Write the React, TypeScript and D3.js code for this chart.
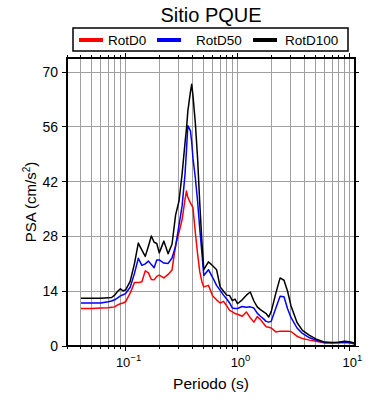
import React, { useEffect, useRef } from 'react';
import * as d3 from 'd3';

// periods (s) shared by the three spectra
const periods = [
  0.04, 0.05, 0.06, 0.07, 0.075, 0.08, 0.085, 0.09, 0.095, 0.1,
  0.11, 0.12, 0.13, 0.14, 0.15, 0.16, 0.17, 0.18, 0.19, 0.2,
  0.22, 0.24, 0.26, 0.28, 0.3, 0.32, 0.34, 0.35, 0.36, 0.38,
  0.39, 0.4, 0.42, 0.44, 0.46, 0.48, 0.5, 0.55, 0.6, 0.65,
  0.7, 0.75, 0.8, 0.85, 0.9, 0.95, 1.0, 1.1, 1.2, 1.3,
  1.4, 1.5, 1.6, 1.7, 1.8, 1.9, 2.0, 2.2, 2.4, 2.6,
  2.8, 3.0, 3.4, 3.8, 4.4, 5.0, 6.0, 7.0, 8.0, 9.0,
  10.0, 11.0,
];

const rotD0 = [
  9.6, 9.6, 9.7, 9.8, 9.9, 10.0, 10.5, 10.8, 11.0, 11.3,
  13.5, 16.2, 16.2, 16.4, 19.2, 18.7, 17.0, 16.9, 17.8, 18.1,
  17.4, 18.3, 19.4, 25.8, 29.0, 32.3, 37.5, 39.6, 38.0, 36.5,
  36.0, 35.3, 29.0, 23.5, 19.0, 16.5, 15.1, 15.5, 12.8, 11.8,
  11.0, 11.4, 10.3, 9.1, 8.7, 8.3, 8.1, 7.6, 8.7, 7.2,
  6.1, 7.5, 6.8, 5.8, 4.9, 4.8, 4.6, 3.6, 3.8, 3.8,
  3.8, 3.7, 2.5, 1.9, 1.5, 1.2, 0.8, 0.8, 0.8, 0.9,
  0.8, 0.6,
];

const rotD50 = [
  11.0, 11.0, 11.0, 11.3, 11.5, 11.8, 12.3, 12.8, 13.1, 13.4,
  15.0, 18.5, 22.4, 20.6, 21.0, 21.7, 20.8, 20.0, 22.0, 22.0,
  21.2, 21.1, 22.5, 25.5, 30.8, 35.8, 44.0, 50.0, 56.3, 55.0,
  52.0, 48.0, 43.0, 37.0, 30.0, 24.0, 18.0, 19.5, 17.5, 15.5,
  14.2, 13.0, 12.0, 11.0, 9.7, 9.6, 9.6, 10.1, 9.9, 10.0,
  9.7, 8.4, 7.6, 7.0, 6.3, 6.1, 6.3, 9.7, 12.7, 12.6,
  9.5, 7.3, 4.6, 3.2, 2.1, 1.5, 0.8, 0.8, 0.9, 1.0,
  0.9, 0.6,
];

const rotD100 = [
  12.2, 12.2, 12.2, 12.3, 12.4, 13.0, 14.0, 14.6, 14.1, 14.3,
  16.5, 21.0, 26.3, 24.5, 22.9, 25.5, 28.1, 26.5, 26.2, 23.8,
  26.8, 23.6, 26.0, 33.5, 37.0, 44.0, 52.0, 55.5, 60.0, 65.0,
  66.9, 64.0, 57.0, 48.0, 36.5, 27.0, 19.5, 21.5, 20.5, 19.5,
  15.1, 14.0, 13.0, 12.9, 11.6, 12.0, 10.8, 11.8, 13.0, 13.8,
  11.5, 10.0, 9.3, 8.8, 8.3, 7.4, 8.8, 13.5, 17.4, 16.8,
  14.0, 10.3, 6.0, 4.0, 2.7, 1.8, 1.0, 0.9, 0.95, 1.2,
  1.1, 0.8,
];

const seriesNames = ['RotD0', 'RotD50', 'RotD100'];
const seriesColors = ['#ff0000', '#0000ff', '#000000'];
const yTicks = [0, 14, 28, 42, 56, 70];
const xDecades = [0.1, 1, 10];
const xDecadeExp = ['\u22121', '0', '1'];

const FONT = '"Liberation Sans", Arial, Helvetica, sans-serif';

export default function App() {
  const svgRef = useRef<SVGSVGElement>(null);

  useEffect(() => {
    const svg = d3.select(svgRef.current);
    svg.selectAll('*').remove();

    const W = 390;
    const H = 400;
    const margin = { top: 58, right: 35, bottom: 54, left: 67 };
    const left = margin.left;
    const right = W - margin.right;
    const top = margin.top;
    const bottom = H - margin.bottom;

    const x = d3.scaleLog().domain([0.03, 11.2]).range([left, right]);
    const y = d3.scaleLinear().domain([0, 73.6]).range([bottom, top]);

    svg.append('rect').attr('width', W).attr('height', H).attr('fill', '#fff');

    const minor = x.ticks();
    const isDecade = (v: number) => Math.abs(Math.log10(v) - Math.round(Math.log10(v))) < 1e-6;

    // grid
    const grid = svg.append('g').attr('shape-rendering', 'crispEdges');
    grid.selectAll('line.v')
      .data(minor)
      .join('line')
      .attr('class', 'v')
      .attr('x1', d => x(d)).attr('x2', d => x(d))
      .attr('y1', top).attr('y2', bottom)
      .attr('stroke', '#a0a0a0').attr('stroke-width', 1);

    grid.selectAll('line.h')
      .data(yTicks.filter(d => d > 0))
      .join('line')
      .attr('class', 'h')
      .attr('x1', left).attr('x2', right)
      .attr('y1', d => y(d)).attr('y2', d => y(d))
      .attr('stroke', '#a0a0a0').attr('stroke-width', 1);

    // curves
    const seriesData = [rotD0, rotD50, rotD100];
    const line = d3.line<number>()
      .x((_, i) => x(periods[i]))
      .y(d => y(d));

    const clip = svg.append('clipPath').attr('id', 'plotclip');
    clip.append('rect').attr('x', left).attr('y', top).attr('width', right - left).attr('height', bottom - top);

    seriesData.forEach((vals, k) => {
      svg.append('path')
        .datum(vals)
        .attr('clip-path', 'url(#plotclip)')
        .attr('d', line)
        .attr('fill', 'none')
        .attr('stroke', seriesColors[k])
        .attr('stroke-width', 1.5)
        .attr('stroke-linejoin', 'round');
    });

    // frame
    svg.append('rect')
      .attr('x', left).attr('y', top)
      .attr('width', right - left).attr('height', bottom - top)
      .attr('fill', 'none').attr('stroke', '#000').attr('stroke-width', 2);

    // x ticks bottom & top
    const tickG = svg.append('g').attr('stroke', '#000').attr('stroke-width', 1).attr('shape-rendering', 'crispEdges');
    minor.forEach(v => {
      const len = isDecade(v) ? 5 : 3;
      tickG.append('line').attr('x1', x(v)).attr('x2', x(v)).attr('y1', bottom).attr('y2', bottom + len);
      tickG.append('line').attr('x1', x(v)).attr('x2', x(v)).attr('y1', top).attr('y2', top - len);
    });
    // y ticks left & right
    yTicks.forEach(v => {
      tickG.append('line').attr('x1', left - 5).attr('x2', left).attr('y1', y(v)).attr('y2', y(v));
      tickG.append('line').attr('x1', right).attr('x2', right + 4).attr('y1', y(v)).attr('y2', y(v));
    });

    // y tick labels
    svg.append('g')
      .selectAll('text')
      .data(yTicks)
      .join('text')
      .attr('x', left - 9)
      .attr('y', d => y(d))
      .attr('dy', '0.35em')
      .attr('text-anchor', 'end')
      .style('font-family', FONT)
      .style('font-size', '14px')
      .text(d => d);

    // x tick labels 10^n
    xDecades.forEach((v, i) => {
      const t = svg.append('text')
        .attr('x', x(v) + 3)
        .attr('y', bottom + 21)
        .attr('text-anchor', 'middle')
        .style('font-family', FONT)
        .style('font-size', '13px');
      t.append('tspan').text('10');
      t.append('tspan').attr('dy', -6).style('font-size', '9.5px').text(xDecadeExp[i]);
    });

    // axis titles
    svg.append('text')
      .attr('x', (left + right) / 2)
      .attr('y', 389)
      .attr('text-anchor', 'middle')
      .style('font-family', FONT)
      .style('font-size', '15.5px')
      .text('Periodo (s)');

    const yl = svg.append('text')
      .attr('transform', `translate(36,${(top + bottom) / 2}) rotate(-90)`)
      .attr('text-anchor', 'middle')
      .style('font-family', FONT)
      .style('font-size', '15px');
    yl.append('tspan').text('PSA (cm/s');
    yl.append('tspan').attr('dy', -6).style('font-size', '10px').text('2');
    yl.append('tspan').attr('dy', 6).text(')');

    // title
    svg.append('text')
      .attr('x', (left + right) / 2)
      .attr('y', 22)
      .attr('text-anchor', 'middle')
      .style('font-family', FONT)
      .style('font-size', '20px')
      .text('Sitio PQUE');

    // legend
    const lg = svg.append('g');
    lg.append('rect')
      .attr('x', 73).attr('y', 28).attr('width', 275).attr('height', 23)
      .attr('fill', '#fff').attr('stroke', '#000').attr('stroke-width', 1.5);
    const legendLineX = [79, 157, 253];
    const legendTextX = [108, 196, 285];
    seriesNames.forEach((name, k) => {
      lg.append('line')
        .attr('x1', legendLineX[k]).attr('x2', legendLineX[k] + 24)
        .attr('y1', 40).attr('y2', 40)
        .attr('stroke', seriesColors[k]).attr('stroke-width', 4);
      lg.append('text')
        .attr('x', legendTextX[k]).attr('y', 45)
        .style('font-family', FONT)
        .style('font-size', '13.5px')
        .text(name);
    });
  }, []);

  return (
    <svg
      ref={svgRef}
      width={390}
      height={400}
      style={{ position: 'absolute', left: 0, top: 0, display: 'block' }}
    />
  );
}
